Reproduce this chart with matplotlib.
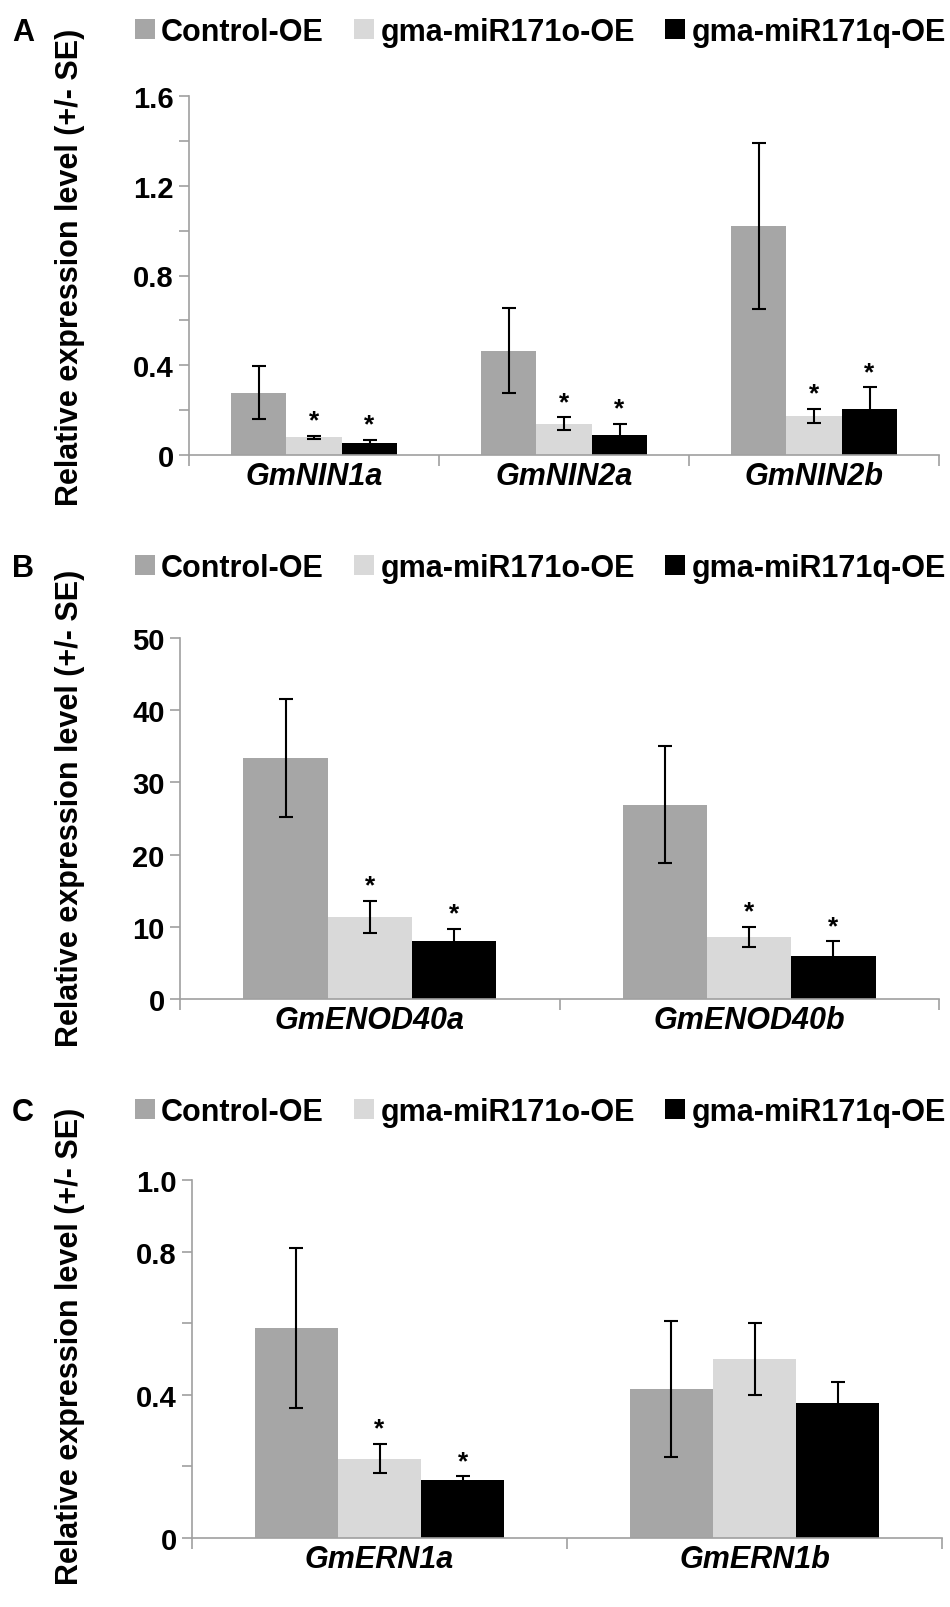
import matplotlib
matplotlib.use('Agg')
import matplotlib.pyplot as plt
import numpy as np

plt.rcParams['font.family'] = ['Liberation Sans', 'DejaVu Sans']
plt.rcParams['font.weight'] = 'bold'

series = ['Control-OE', 'gma-miR171o-OE', 'gma-miR171q-OE']
cores = ['#a6a6a6', '#d9d9d9', '#000000']

# painel A
genes_a = ['GmNIN1a', 'GmNIN2a', 'GmNIN2b']
ctrl_a = [0.277, 0.465, 1.02]
ctrl_a_se = [0.118, 0.19, 0.37]
o_a = [0.078, 0.14, 0.175]
o_a_se = [0.007, 0.028, 0.031]
q_a = [0.053, 0.089, 0.205]
q_a_se = [0.015, 0.049, 0.096]
star_a = [[False, True, True], [False, True, True], [False, True, True]]

# painel B
genes_b = ['GmENOD40a', 'GmENOD40b']
ctrl_b = [33.4, 26.9]
ctrl_b_se = [8.2, 8.1]
o_b = [11.4, 8.6]
o_b_se = [2.2, 1.4]
q_b = [8.1, 5.9]
q_b_se = [1.6, 2.1]
star_b = [[False, True, True], [False, True, True]]

# painel C
genes_c = ['GmERN1a', 'GmERN1b']
ctrl_c = [0.587, 0.416]
ctrl_c_se = [0.223, 0.19]
o_c = [0.222, 0.50]
o_c_se = [0.041, 0.10]
q_c = [0.162, 0.378]
q_c_se = [0.01, 0.058]
star_c = [[False, True, True], [False, False, False]]

fig = plt.figure(figsize=(9.5, 16.08), dpi=100)
cinza = '#a0a0a0'
largura = 0.222


def painel(pos, genes, vals, ses, stars, yticks, ylabels, ymax, letra, leg_y, ylab_y):
    ax = fig.add_axes(pos)
    x = np.arange(len(genes))
    handles = []
    for k in range(3):
        xs = x + (k - 1) * largura
        h = ax.bar(xs, vals[k], largura, color=cores[k], zorder=2)
        handles.append(h)
        ax.errorbar(xs, vals[k], yerr=ses[k], fmt='none', ecolor='black',
                    elinewidth=1.5, capsize=5, capthick=1.5, zorder=3)
        for i in range(len(genes)):
            if stars[i][k]:
                ax.annotate('*', (xs[i], vals[k][i] + ses[k][i]), xytext=(0, 6),
                            textcoords='offset points', ha='center', va='baseline',
                            fontsize=19, fontweight='bold')
    ax.set_xlim(-0.5, len(genes) - 0.5)
    ax.set_ylim(0, ymax)
    ax.set_yticks(yticks)
    ax.set_yticklabels(ylabels)
    ax.set_xticks(np.arange(len(genes) + 1) - 0.5)
    ax.set_xticklabels([])
    ax.set_xticks(x, minor=True)
    ax.set_xticklabels(genes, minor=True, fontstyle='italic', fontsize=22, fontweight='bold')
    ax.tick_params(axis='x', which='minor', length=0, pad=4)
    ax.tick_params(axis='x', which='major', length=8, color=cinza, width=1.2)
    ax.tick_params(axis='y', length=7, color=cinza, width=1.2, pad=4, labelsize=21)
    for s in ['top', 'right']:
        ax.spines[s].set_visible(False)
    for s in ['left', 'bottom']:
        ax.spines[s].set_color(cinza)
        ax.spines[s].set_linewidth(1.2)
    for t in ax.get_yticklabels():
        t.set_fontweight('bold')
    fig.legend(handles, series, loc='center left', bbox_to_anchor=(135 / 950, 1 - leg_y / 1608),
               ncol=3, frameon=False, fontsize=22, handlelength=0.65, handleheight=0.65,
               handletextpad=0.2, columnspacing=1.0, borderaxespad=0, borderpad=0,
               prop={'weight': 'bold', 'size': 22})
    fig.text(12 / 950, 1 - leg_y / 1608, letra, fontsize=22, fontweight='bold',
             ha='left', va='center')
    fig.text(70 / 950, 1 - ylab_y / 1608, 'Relative expression level (+/- SE)',
             rotation=90, fontsize=22, fontweight='bold', ha='center', va='center')
    return ax


painel([189 / 950, 1 - 456 / 1608, 750 / 950, 359 / 1608], genes_a,
       [ctrl_a, o_a, q_a], [ctrl_a_se, o_a_se, q_a_se], star_a,
       np.arange(0, 1.61, 0.2), ['0', '', '0.4', '', '0.8', '', '1.2', '', '1.6'],
       1.6, 'A', 33, 267)

painel([180 / 950, 1 - 1000 / 1608, 759 / 950, 361 / 1608], genes_b,
       [ctrl_b, o_b, q_b], [ctrl_b_se, o_b_se, q_b_se], star_b,
       np.arange(0, 51, 10), ['0', '10', '20', '30', '40', '50'],
       50, 'B', 569, 808)

painel([192 / 950, 1 - 1539 / 1608, 750 / 950, 358 / 1608], genes_c,
       [ctrl_c, o_c, q_c], [ctrl_c_se, o_c_se, q_c_se], star_c,
       np.arange(0, 1.01, 0.2), ['0', '', '0.4', '', '0.8', '1.0'],
       1.0, 'C', 1113, 1346)

fig.savefig('out.png', dpi=100)
